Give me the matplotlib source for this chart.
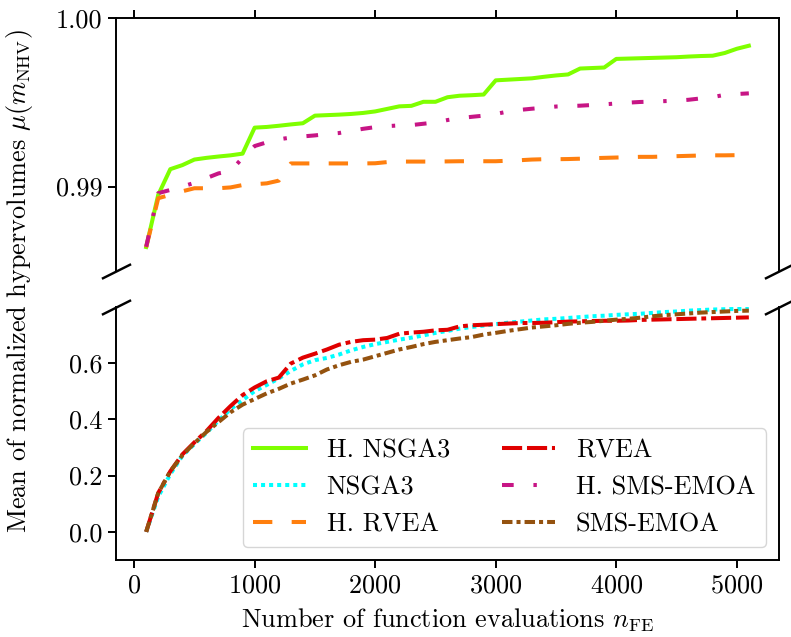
import matplotlib
matplotlib.use("Agg")
import matplotlib.pyplot as plt
from matplotlib.ticker import FormatStrFormatter

plt.rcParams['font.family'] = 'serif'
plt.rcParams['font.serif'] = ['cmr10', 'DejaVu Serif']
plt.rcParams['mathtext.fontset'] = 'cm'
plt.rcParams['axes.formatter.use_mathtext'] = True
plt.rcParams['font.size'] = 18.9

n_fe = list(range(100, 5200, 100))

h_nsga3 = [0.98642, 0.98951, 0.99103, 0.99127, 0.99160, 0.99170, 0.99178, 0.99185, 0.99195, 0.99349,
           0.99353, 0.99360, 0.99368, 0.99375, 0.99420, 0.99423, 0.99426, 0.99430, 0.99436, 0.99445,
           0.99460, 0.99475, 0.99478, 0.99502, 0.99502, 0.99529, 0.99538, 0.99541, 0.99545, 0.99629,
           0.99633, 0.99637, 0.99641, 0.99650, 0.99658, 0.99664, 0.99699, 0.99702, 0.99705, 0.99756,
           0.99758, 0.99760, 0.99762, 0.99764, 0.99766, 0.99770, 0.99773, 0.99775, 0.99791, 0.99816,
           0.99834]

h_sms = [0.98644, 0.98961, 0.98980, 0.99000, 0.99022, 0.99050, 0.99078, 0.99092, 0.99170, 0.99240,
         0.99262, 0.99280, 0.99290, 0.99297, 0.99303, 0.99311, 0.99317, 0.99330, 0.99342, 0.99352,
         0.99358, 0.99362, 0.99364, 0.99372, 0.99380, 0.99394, 0.99405, 0.99413, 0.99420, 0.99430,
         0.99444, 0.99454, 0.99461, 0.99467, 0.99474, 0.99477, 0.99479, 0.99483, 0.99487, 0.99492,
         0.99497, 0.99501, 0.99503, 0.99506, 0.99509, 0.99514, 0.99522, 0.99530, 0.99543, 0.99548,
         0.99552]

h_rvea = [0.98640, 0.98931, 0.98951, 0.98972, 0.98990, 0.98990, 0.98990, 0.98995, 0.99009, 0.99014,
          0.99019, 0.99035, 0.99137, 0.99137, 0.99137, 0.99137, 0.99137, 0.99137, 0.99137, 0.99138,
          0.99145, 0.99148, 0.99148, 0.99148, 0.99148, 0.99149, 0.99150, 0.99150, 0.99150, 0.99150,
          0.99153, 0.99156, 0.99160, 0.99162, 0.99162, 0.99163, 0.99165, 0.99168, 0.99170, 0.99172,
          0.99174, 0.99176, 0.99176, 0.99178, 0.99180, 0.99182, 0.99184, 0.99185, 0.99185, 0.99186,
          0.99186]

rvea = [0.0, 0.138, 0.215, 0.275, 0.318, 0.358, 0.405, 0.447, 0.486, 0.513,
        0.535, 0.548, 0.598, 0.619, 0.633, 0.648, 0.665, 0.675, 0.681, 0.683,
        0.689, 0.704, 0.708, 0.711, 0.716, 0.718, 0.730, 0.734, 0.736, 0.738,
        0.740, 0.742, 0.742, 0.743, 0.745, 0.747, 0.748, 0.749, 0.750, 0.750,
        0.751, 0.753, 0.754, 0.755, 0.756, 0.757, 0.758, 0.759, 0.760, 0.761,
        0.762]

nsga3 = [0.0, 0.125, 0.205, 0.270, 0.312, 0.352, 0.395, 0.436, 0.468, 0.500,
         0.522, 0.545, 0.572, 0.595, 0.610, 0.618, 0.630, 0.645, 0.657, 0.667,
         0.675, 0.683, 0.690, 0.698, 0.707, 0.714, 0.722, 0.728, 0.733, 0.738,
         0.743, 0.747, 0.751, 0.755, 0.757, 0.760, 0.763, 0.766, 0.768, 0.771,
         0.773, 0.775, 0.778, 0.781, 0.783, 0.786, 0.788, 0.790, 0.791, 0.792,
         0.793]

sms = [0.0, 0.138, 0.215, 0.272, 0.315, 0.355, 0.390, 0.425, 0.452, 0.472,
       0.492, 0.508, 0.527, 0.541, 0.556, 0.577, 0.592, 0.604, 0.612, 0.624,
       0.636, 0.648, 0.657, 0.667, 0.675, 0.681, 0.687, 0.692, 0.701, 0.707,
       0.714, 0.720, 0.726, 0.730, 0.734, 0.739, 0.743, 0.746, 0.750, 0.754,
       0.757, 0.761, 0.766, 0.770, 0.773, 0.776, 0.779, 0.781, 0.783, 0.785,
       0.786]

series = [
    ("H. NSGA3", h_nsga3, '#7FFF00', '-'),
    ("NSGA3", nsga3, '#00FFFF', (0, (1, 1))),
    ("H. RVEA", h_rvea, '#FF7F0E', (0, (4.8, 4.8))),
    ("RVEA", rvea, '#E00000', (0, (5, 1.2, 5, 1.2, 1.2, 1.2))),
    ("H. SMS-EMOA", h_sms, '#C71585', (0, (2.9, 4.9, 0.85, 4.9))),
    ("SMS-EMOA", sms, '#94520F', (0, (2.6, 1, 1, 1))),
]

fig, (ax1, ax2) = plt.subplots(2, 1, sharex=True, figsize=(7.91, 6.37), dpi=100)
fig.subplots_adjust(left=0.1467, right=0.9848, top=0.9722, bottom=0.1209, hspace=0.141)

for ax in (ax1, ax2):
    for label, vals, color, ls in series:
        ax.plot(n_fe, vals, color=color, linestyle=ls, linewidth=2.9, label=label)
    for s in ax.spines.values():
        s.set_linewidth(1.4)
    ax.tick_params(direction='out', length=6.1, width=1.4)

ax1.set_ylim(0.985, 1.0)
ax2.set_ylim(-0.1, 0.8)
ax1.set_yticks([0.99, 1.00])
ax1.yaxis.set_major_formatter(FormatStrFormatter('%.2f'))
ax2.set_yticks([0.0, 0.2, 0.4, 0.6])
ax2.yaxis.set_major_formatter(FormatStrFormatter('%.1f'))
ax2.set_xticks([0, 1000, 2000, 3000, 4000, 5000])

ax1.spines['bottom'].set_visible(False)
ax2.spines['top'].set_visible(False)
ax1.xaxis.tick_top()
ax1.tick_params(labeltop=False)
ax2.xaxis.tick_bottom()

d = 0.5
kw = dict(marker=[(-1, -d), (1, d)], markersize=21, linestyle='none',
          color='k', mec='k', mew=1.75, clip_on=False)
ax1.plot([0, 1], [0, 0], transform=ax1.transAxes, **kw)
ax2.plot([0, 1], [1, 1], transform=ax2.transAxes, **kw)

ax2.set_xlabel(r'Number of function evaluations $n_{\mathrm{FE}}$', labelpad=7)
fig.text(20 / 791, 1 - 281 / 637, r'Mean of normalized hypervolumes $\mu(m_{\mathrm{NHV}})$',
         rotation=90, ha='center', va='center')

ax2.legend(loc='lower right', ncol=2)

fig.savefig('out.png', dpi=100)
